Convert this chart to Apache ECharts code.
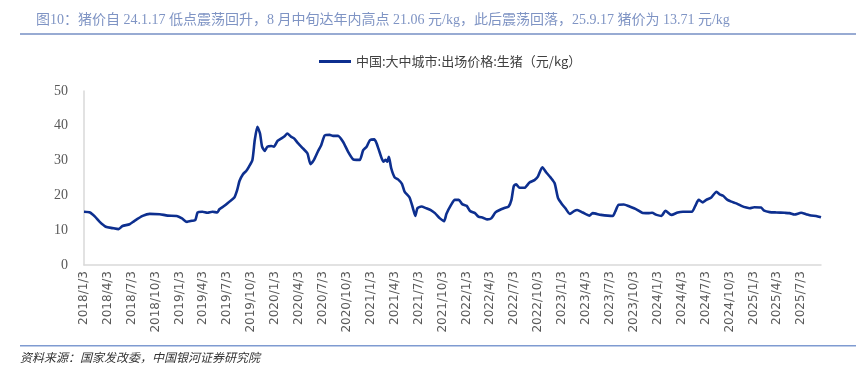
<!DOCTYPE html>
<html>
<head>
<meta charset="utf-8">
<script src="https://cdn.jsdelivr.net/npm/echarts@6/dist/echarts.min.js"></script>
<style>
html,body{margin:0;padding:0;background:#fff;}
#chart{width:856px;height:370px;}
</style>
</head>
<body>
<div id="chart"></div>
<script>
const titleText = '图10：猪价自 24.1.17 低点震荡回升，8 月中旬达年内高点 21.06 元/kg，此后震荡回落，25.9.17 猪价为 13.71 元/kg';
const sourceText = '资料来源：国家发改委，中国银河证券研究院';
const seriesName = '中国:大中城市:出场价格:生猪（元/kg）';

const tickLabels = ['2018/1/3','2018/4/3','2018/7/3','2018/10/3','2019/1/3','2019/4/3','2019/7/3','2019/10/3',
  '2020/1/3','2020/4/3','2020/7/3','2020/10/3','2021/1/3','2021/4/3','2021/7/3','2021/10/3',
  '2022/1/3','2022/4/3','2022/7/3','2022/10/3','2023/1/3','2023/4/3','2023/7/3','2023/10/3',
  '2024/1/3','2024/4/3','2024/7/3','2024/10/3','2025/1/3','2025/4/3','2025/7/3'];

const yTicks = [0, 10, 20, 30, 40, 50];

const dates = [
 '2018-01-03','2018-01-26','2018-02-14','2018-03-04','2018-03-27','2018-04-22','2018-05-15','2018-05-30','2018-06-26','2018-07-15',
 '2018-08-15','2018-09-11','2018-10-19','2018-11-18','2018-12-23','2019-01-12','2019-01-31','2019-02-19','2019-03-04','2019-03-13',
 '2019-03-31','2019-04-19','2019-05-08','2019-05-27','2019-06-04','2019-06-23','2019-07-12','2019-07-31','2019-08-11','2019-08-20',
 '2019-09-02','2019-09-15','2019-09-25','2019-10-08','2019-10-17','2019-10-27','2019-11-06','2019-11-14','2019-11-24','2019-12-04',
 '2019-12-19','2019-12-29','2020-01-12','2020-01-27','2020-02-09','2020-02-18','2020-03-03','2020-03-15','2020-03-30','2020-04-18',
 '2020-05-05','2020-05-17','2020-05-30','2020-06-14','2020-06-27','2020-07-10','2020-07-29','2020-08-11','2020-08-30','2020-09-18',
 '2020-10-07','2020-10-26','2020-11-08','2020-11-21','2020-12-04','2020-12-17','2020-12-30','2021-01-15','2021-01-24','2021-02-06',
 '2021-02-19','2021-02-28','2021-03-06','2021-03-12','2021-03-21','2021-04-03','2021-04-16','2021-05-01','2021-05-11','2021-05-30',
 '2021-06-12','2021-06-21','2021-06-29','2021-07-14','2021-08-02','2021-08-19','2021-09-04','2021-09-23','2021-10-09','2021-10-18',
 '2021-11-04','2021-11-19','2021-12-04','2021-12-17','2022-01-03','2022-01-16','2022-02-04','2022-02-17','2022-03-06','2022-03-23',
 '2022-04-07','2022-04-23','2022-05-09','2022-05-25','2022-06-12','2022-06-23','2022-07-02','2022-07-11','2022-07-24','2022-08-12',
 '2022-08-31','2022-09-19','2022-10-02','2022-10-19','2022-11-04','2022-11-20','2022-12-05','2022-12-18','2022-12-31','2023-01-15',
 '2023-02-01','2023-02-17','2023-03-01','2023-03-22','2023-04-17','2023-04-29','2023-05-31','2023-07-15','2023-07-24','2023-08-06',
 '2023-08-26','2023-09-17','2023-10-13','2023-11-04','2023-11-27','2023-12-12','2023-12-29','2024-01-17','2024-02-01','2024-02-24',
 '2024-03-19','2024-04-08','2024-05-12','2024-05-25','2024-06-07','2024-06-23','2024-07-06','2024-07-25','2024-08-14','2024-08-26',
 '2024-09-08','2024-09-25','2024-10-10','2024-10-29','2024-11-17','2024-12-06','2024-12-19','2025-01-05','2025-01-31','2025-02-12',
 '2025-03-05','2025-03-31','2025-05-01','2025-05-20','2025-06-08','2025-07-03','2025-07-22','2025-08-10','2025-08-29','2025-09-17'
];

const prices = [
 15.3,15.1,13.9,12.4,11.0,10.6,10.3,11.2,11.7,12.7,
 14.1,14.7,14.6,14.2,14.1,13.4,12.4,12.7,12.9,15.1,
 15.3,15.0,15.3,15.1,16.0,17.0,18.2,19.4,21.6,24.2,
 26.1,27.1,28.3,30.2,35.9,39.7,37.8,34.0,32.8,34.0,
 34.2,34.0,35.7,36.4,37.1,37.8,36.9,36.4,35.0,33.5,
 32.1,29.0,30.2,32.6,34.5,37.2,37.4,37.1,37.1,35.4,
 32.6,30.4,30.2,30.2,33.0,34.0,35.9,36.1,35.0,32.1,
 29.7,30.2,29.7,31.1,27.8,25.2,24.6,23.3,21.1,19.4,
 16.3,14.1,16.3,16.8,16.3,15.8,14.9,13.4,12.6,14.7,
 17.2,18.7,18.7,17.5,17.0,15.5,14.9,13.9,13.6,13.1,
 13.4,15.1,15.8,16.3,16.8,18.7,22.7,23.2,22.2,22.2,
 23.7,24.4,25.4,28.1,26.5,25.1,23.5,19.2,17.7,16.3,
 14.7,15.5,15.8,15.1,14.2,14.9,14.4,14.1,15.3,17.3,
 17.4,16.8,16.0,15.0,14.9,15.0,14.4,14.1,15.6,14.4,
 15.1,15.3,15.3,17.0,18.7,18.0,18.7,19.4,21.06,20.3,
 19.9,18.7,18.2,17.7,17.0,16.5,16.3,16.6,16.5,15.6,
 15.2,15.1,15.0,14.9,14.5,15.0,14.6,14.2,14.1,13.71
];

function parseDate(s) {
  const p = s.split(/[-\/]/).map(Number);
  return Date.UTC(p[0], p[1] - 1, p[2]);
}

const tickValues = tickLabels.map(parseDate);
const seriesData = dates.map((d, i) => [parseDate(d), prices[i]]);

const chart = echarts.init(document.getElementById('chart'), null, {renderer: 'canvas'});
chart.setOption({
  animation: false,
  backgroundColor: '#fff',
  title: {
    text: titleText,
    left: 31, top: 8,
    textStyle: {
      fontSize: 14, fontWeight: 'normal', color: '#7f94c4',
      fontFamily: '"Liberation Serif", "Noto Sans CJK SC", serif'
    }
  },
  legend: {
    top: 50, left: 314,
    itemWidth: 32, itemHeight: 3, itemGap: 6,
    textStyle: {fontSize: 13, color: '#404040', fontFamily: '"Noto Sans CJK SC", sans-serif'},
    data: [{name: seriesName, icon: 'rect'}]
  },
  grid: {left: 84, right: 35, top: 91, bottom: 105, containLabel: false},
  xAxis: {
    type: 'value',
    min: parseDate(dates[0]),
    max: parseDate(dates[dates.length - 1]),
    splitLine: {show: false},
    axisTick: {show: false},
    axisLine: {lineStyle: {color: '#d9d9d9', width: 1.5}},
    axisLabel: {
      customValues: tickValues,
      rotate: 90,
      color: '#595959',
      fontSize: 12,
      margin: 6,
      fontFamily: '"DejaVu Sans", sans-serif',
      hideOverlap: false,
      formatter: function (v) {
        const d = new Date(v);
        return d.getUTCFullYear() + '/' + (d.getUTCMonth() + 1) + '/' + d.getUTCDate();
      }
    }
  },
  yAxis: {
    type: 'value',
    min: yTicks[0], max: yTicks[yTicks.length - 1], interval: 10,
    splitLine: {show: false},
    axisTick: {show: false},
    axisLine: {show: true, lineStyle: {color: '#d9d9d9', width: 1.5}},
    axisLabel: {color: '#595959', fontSize: 14, margin: 16, fontFamily: '"Liberation Serif", serif'}
  },
  series: [{
    name: seriesName,
    type: 'line',
    data: seriesData,
    showSymbol: false,
    symbol: 'none',
    smooth: 0.2,
    lineStyle: {color: '#0d2f8f', width: 2.6},
    itemStyle: {color: '#0d2f8f'}
  }],
  graphic: [
    {type: 'rect', shape: {x: 20, y: 33, width: 836, height: 2}, style: {fill: '#98abd3'}},
    {type: 'rect', shape: {x: 20, y: 345, width: 836, height: 1.5}, style: {fill: '#7f9bd1'}},
    {type: 'text', left: 20, top: 351, style: {text: sourceText, fontSize: 12, fontStyle: 'italic', fill: '#333', fontFamily: '"Noto Sans CJK SC", sans-serif'}}
  ]
});
</script>
</body>
</html>
